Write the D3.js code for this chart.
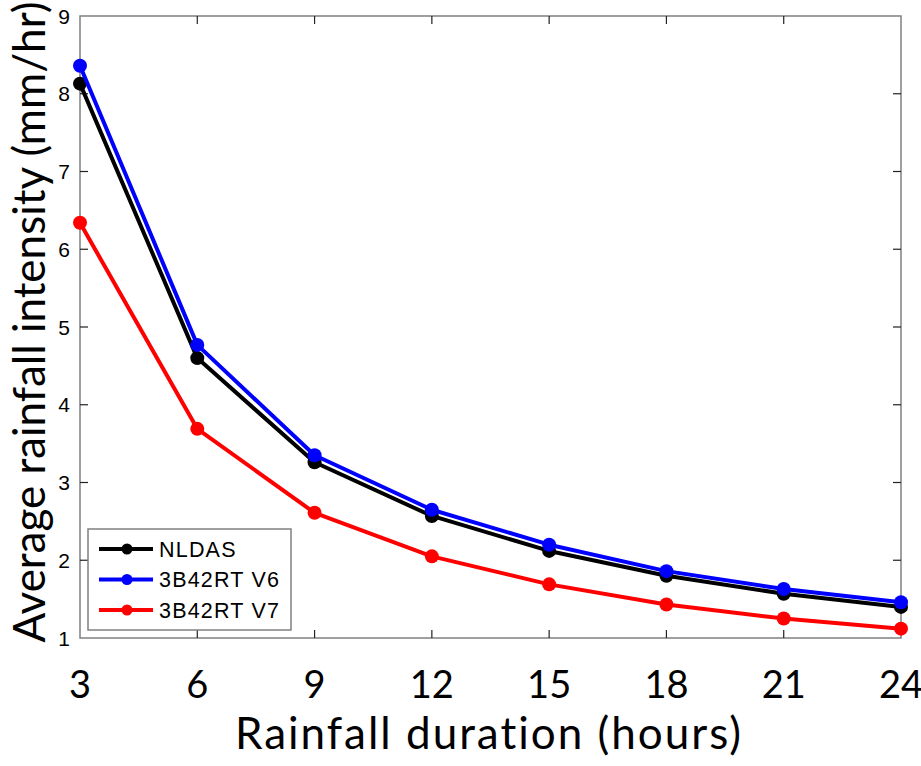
<!DOCTYPE html>
<html>
<head>
<meta charset="utf-8">
<script src="https://cdn.jsdelivr.net/npm/d3@7"></script>
<style>
  body { margin: 0; background: #fff; }
  svg { display: block; }
</style>
</head>
<body>
<svg id="graph"></svg>
<script>
const durations = [3, 6, 9, 12, 15, 18, 21, 24];
const nldas = [8.13, 4.60, 3.26, 2.57, 2.12, 1.80, 1.57, 1.40];
const v6 = [8.36, 4.77, 3.35, 2.65, 2.20, 1.86, 1.63, 1.46];
const v7 = [6.34, 3.69, 2.61, 2.05, 1.69, 1.43, 1.25, 1.12];
const seriesNames = ["NLDAS", "3B42RT V6", "3B42RT V7"];
const yTicks = [1, 2, 3, 4, 5, 6, 7, 8, 9];

const WIDTH = 921;
const HEIGHT = 766;
const margin = {top: 16, right: 20, bottom: 128, left: 80};
const innerWidth = WIDTH - margin.left - margin.right;
const innerHeight = HEIGHT - margin.top - margin.bottom;

const palette = ["#000000", "#0000ff", "#ff0000"];
const series = [nldas, v6, v7];

let svg = d3.select("#graph")
    .attr("width", WIDTH)
    .attr("height", HEIGHT);

let graph = svg.append("g")
    .attr("transform", `translate(${margin.left}, ${margin.top})`);

const x = d3.scaleLinear().domain([3, 24]).range([0, innerWidth]);
const y = d3.scaleLinear().domain([1, 9]).range([innerHeight, 0]);

// box
graph.append("rect")
    .attr("width", innerWidth)
    .attr("height", innerHeight)
    .attr("fill", "none")
    .attr("stroke", "#808080")
    .attr("stroke-width", 1.5);

// ticks, inward on all four sides
const tickLen = 8;
let ticks = graph.append("g").attr("stroke", "#222").attr("stroke-width", 1.2);
ticks.selectAll(".xb").data(durations.slice(1, -1)).join("line")
    .attr("x1", d => x(d)).attr("x2", d => x(d))
    .attr("y1", innerHeight).attr("y2", innerHeight - tickLen);
ticks.selectAll(".xt").data(durations.slice(1, -1)).join("line")
    .attr("x1", d => x(d)).attr("x2", d => x(d))
    .attr("y1", 0).attr("y2", tickLen);
ticks.selectAll(".yl").data(yTicks.slice(1, -1)).join("line")
    .attr("x1", 0).attr("x2", tickLen)
    .attr("y1", d => y(d)).attr("y2", d => y(d));
ticks.selectAll(".yr").data(yTicks.slice(1, -1)).join("line")
    .attr("x1", innerWidth).attr("x2", innerWidth - tickLen)
    .attr("y1", d => y(d)).attr("y2", d => y(d));

// y tick labels
graph.append("g")
    .attr("font-family", "Liberation Sans, Arial, sans-serif")
    .attr("font-size", 21)
    .attr("text-anchor", "end")
    .selectAll("text")
    .data(yTicks)
    .join("text")
    .attr("x", -10)
    .attr("y", d => y(d))
    .attr("dy", "0.36em")
    .text(d => d);

// x tick labels
graph.append("g")
    .attr("font-family", "Lato, sans-serif")
    .attr("font-size", 38)
    .attr("text-anchor", "middle")
    .selectAll("text")
    .data(durations)
    .join("text")
    .attr("x", d => x(d))
    .attr("y", innerHeight + 60)
    .text(d => d);

// axis titles
svg.append("text")
    .attr("font-family", "Lato, sans-serif")
    .attr("font-size", 44)
    .attr("letter-spacing", 2)
    .attr("text-anchor", "middle")
    .attr("x", 489)
    .attr("y", 749)
    .text("Rainfall duration (hours)");

svg.append("text")
    .attr("font-family", "Lato, sans-serif")
    .attr("font-size", 44)
    .attr("text-anchor", "middle")
    .attr("transform", `translate(45, 322) rotate(-90)`)
    .text("Average rainfall intensity (mm/hr)");

// lines and markers
const line = d3.line()
    .x((d, i) => x(durations[i]))
    .y(d => y(d));

series.forEach((vals, k) => {
    let g = graph.append("g");
    g.append("path")
        .attr("d", line(vals))
        .attr("fill", "none")
        .attr("stroke", palette[k])
        .attr("stroke-width", 4)
        .attr("stroke-linejoin", "round");
    g.selectAll("circle")
        .data(vals)
        .join("circle")
        .attr("cx", (d, i) => x(durations[i]))
        .attr("cy", d => y(d))
        .attr("r", 7)
        .attr("fill", palette[k]);
});

// legend
let legend = graph.append("g").attr("transform", `translate(8, ${innerHeight - 109})`);
legend.append("rect")
    .attr("width", 203)
    .attr("height", 101)
    .attr("fill", "#fff")
    .attr("stroke", "#808080")
    .attr("stroke-width", 1.5);
let items = legend.selectAll(".item")
    .data(seriesNames)
    .join("g")
    .attr("transform", (d, i) => `translate(0, ${20 + i * 30.5})`);
items.append("line")
    .attr("x1", 11).attr("x2", 65)
    .attr("stroke", (d, i) => palette[i])
    .attr("stroke-width", 4);
items.append("circle")
    .attr("cx", 39).attr("r", 5.5)
    .attr("fill", (d, i) => palette[i]);
items.append("text")
    .attr("x", 71)
    .attr("dy", "0.36em")
    .attr("font-family", "Liberation Sans, Arial, sans-serif")
    .attr("font-size", 21.5)
    .attr("letter-spacing", 1.2)
    .text(d => d);
</script>
</body>
</html>
